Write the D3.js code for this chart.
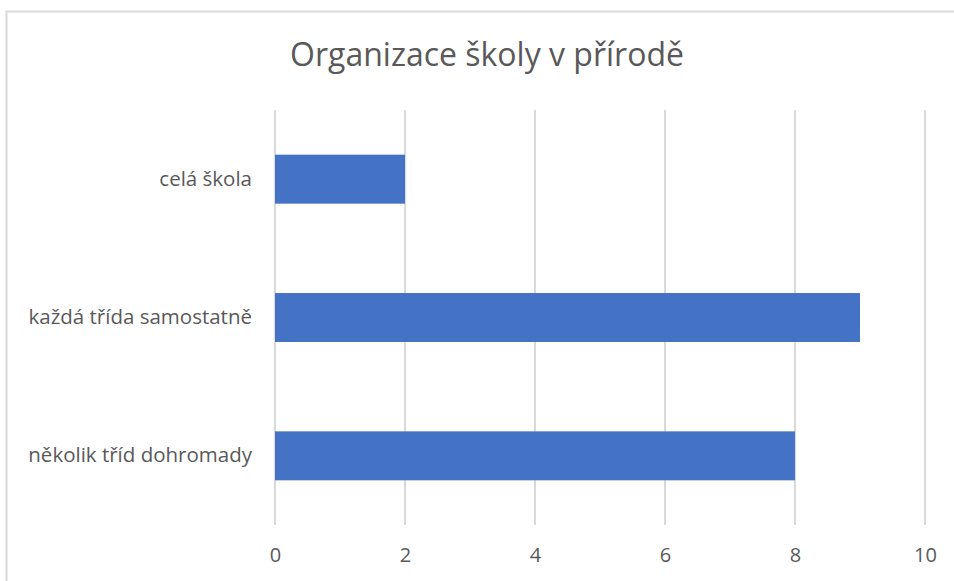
<!DOCTYPE html>
<html>
<head>
<meta charset="utf-8">
<script src="https://cdn.jsdelivr.net/npm/d3@7"></script>
<style>
  body { margin: 0; background: #fff; }
  text { font-family: "Open Sans", sans-serif; fill: #595959; }
</style>
</head>
<body>
<div id="chart"></div>
<script>
// data
var categories = ["celá škola", "každá třída samostatně", "několik tříd dohromady"];
var values = [2, 9, 8];
var xTicks = [0, 2, 4, 6, 8, 10];
var title = "Organizace školy v přírodě";

var W = 954, H = 581;
var margin = {top: 110, right: 29, bottom: 56, left: 275},
    width = W - margin.left - margin.right,
    height = H - margin.top - margin.bottom;

var svg = d3.select("#chart")
  .append("svg")
    .attr("width", W)
    .attr("height", H);

// chart frame
svg.append("rect")
  .attr("x", 6.5).attr("y", 11.5)
  .attr("width", 960).attr("height", 600)
  .attr("fill", "none")
  .attr("stroke", "#d9d9d9")
  .attr("stroke-width", 2);

svg.append("text")
  .attr("x", 487).attr("y", 66)
  .attr("text-anchor", "middle")
  .style("font-size", "32px")
  .text(title);

var g = svg.append("g")
  .attr("transform", "translate(" + margin.left + "," + margin.top + ")");

var x = d3.scaleLinear()
  .domain([0, 10])
  .range([0, width]);

var y = d3.scaleBand()
  .domain(categories)
  .range([0, height])
  .paddingInner(0.646)
  .paddingOuter(0.323);

// gridlines
g.selectAll("line.grid")
  .data(xTicks)
  .enter().append("line")
    .attr("class", "grid")
    .attr("x1", function(d) { return x(d); })
    .attr("x2", function(d) { return x(d); })
    .attr("y1", 0)
    .attr("y2", height)
    .attr("stroke", "#d9d9d9")
    .attr("stroke-width", 2);

// bars
g.selectAll("rect.bar")
  .data(values)
  .enter().append("rect")
    .attr("class", "bar")
    .attr("x", x(0))
    .attr("y", function(d, i) { return y(categories[i]); })
    .attr("width", function(d) { return x(d) - x(0); })
    .attr("height", y.bandwidth())
    .attr("fill", "#4472c4");

// x axis
var xAxis = g.append("g")
  .attr("transform", "translate(0," + height + ")")
  .call(d3.axisBottom(x).tickValues(xTicks).tickSize(0).tickPadding(23));
xAxis.select(".domain").remove();
xAxis.selectAll("text").style("font-size", "20px").attr("fill", "#595959");

// y axis
var yAxis = g.append("g")
  .call(d3.axisLeft(y).tickSize(0).tickPadding(23));
yAxis.select(".domain").remove();
yAxis.selectAll("text").style("font-size", "20.5px").attr("fill", "#595959");
</script>
</body>
</html>
